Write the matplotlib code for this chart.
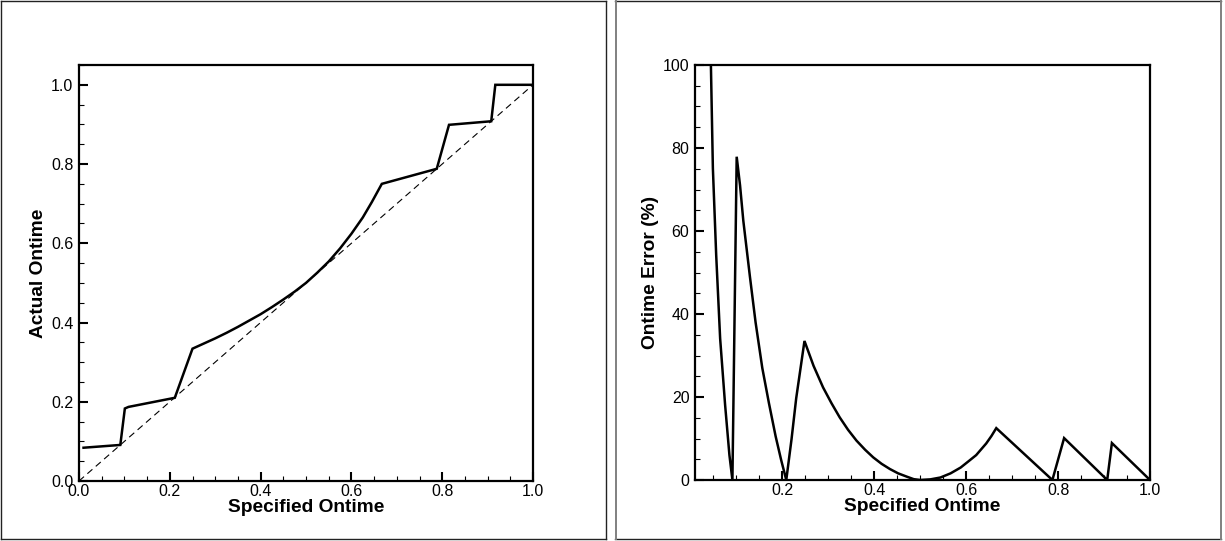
import matplotlib
matplotlib.use('Agg')
import matplotlib.pyplot as plt
from matplotlib.ticker import MultipleLocator, FormatStrFormatter
from matplotlib.lines import Line2D

plt.rcParams['font.family'] = ['Liberation Sans', 'DejaVu Sans']

# ---- data: left chart (Actual vs Specified ontime) ----
spec_left = [0.01, 0.091, 0.101, 0.109, 0.211, 0.25, 0.275, 0.30, 0.325, 0.35,
             0.375, 0.40, 0.425, 0.45, 0.475, 0.50, 0.525, 0.55, 0.575, 0.60,
             0.625, 0.645, 0.667, 0.788, 0.815, 0.908, 0.917, 1.0]
actual_left = [0.084, 0.091, 0.183, 0.187, 0.210, 0.334, 0.347, 0.360, 0.374, 0.389,
               0.405, 0.421, 0.439, 0.458, 0.478, 0.500, 0.526, 0.554, 0.587, 0.624,
               0.665, 0.704, 0.750, 0.788, 0.899, 0.908, 1.0, 1.0]
ideal_x = [0.0, 1.0]
ideal_y = [0.0, 1.0]

# ---- data: right chart (Ontime error %) ----
spec_right = [0.0446, 0.0489, 0.0561, 0.0647, 0.0755, 0.0849, 0.0914,
              0.1007, 0.108, 0.1151, 0.1295, 0.1418, 0.1564, 0.1709, 0.1855, 0.1975, 0.2086,
              0.22, 0.2302, 0.2482,
              0.268, 0.2887, 0.307, 0.3248, 0.343, 0.3613, 0.38, 0.3978, 0.416, 0.434,
              0.452, 0.471, 0.486, 0.50, 0.522, 0.544, 0.566, 0.588, 0.605, 0.6218,
              0.6436, 0.655, 0.6655,
              0.7876, 0.8131, 0.9069, 0.9171, 1.0]
error_right = [100, 75.1, 54.2, 34.1, 18.1, 6.0, 0,
               77.9, 71.0, 62.5, 49.0, 38.0, 27.0, 18.5, 10.5, 4.8, 0,
               9.8, 19.7, 33.5,
               27.5, 22.3, 18.5, 15.1, 12.1, 9.5, 7.3, 5.45, 3.9, 2.65,
               1.6, 0.8, 0.2, 0, 0.15, 0.6, 1.6, 3.0, 4.5, 6.0,
               8.8, 10.6, 12.5,
               0, 10.1, 0, 8.9, 0]

W, H = 1225, 541
fig = plt.figure(figsize=(W / 100, H / 100), dpi=100)
fig.patch.set_facecolor('white')


def fx(px):
    return px / W


def fy(py):
    return 1 - py / H


ax1 = fig.add_axes([fx(79), fy(481), (533 - 79) / W, (481 - 65) / H])
ax2 = fig.add_axes([fx(695), fy(480), (1150 - 695) / W, (480 - 65) / H])


def style(ax):
    for s in ax.spines.values():
        s.set_linewidth(1.6)
        s.set_color('black')
    ax.tick_params(which='both', direction='in', top=False, right=False,
                   labelsize=11.5, colors='black')
    ax.tick_params(which='major', length=6.5, width=1.5)
    ax.tick_params(which='minor', length=3.6, width=0.8)
    ax.tick_params(axis='x', which='both', pad=2.5)
    ax.tick_params(axis='y', which='both', pad=4)


# left chart
ax1.plot(ideal_x, ideal_y, color='black', lw=0.8, dashes=(6, 4))
ax1.plot(spec_left, actual_left, color='black', lw=1.8, solid_joinstyle='miter')
ax1.set_xlim(0, 1.0)
ax1.set_ylim(0, 1.05)
ax1.xaxis.set_major_locator(MultipleLocator(0.2))
ax1.xaxis.set_minor_locator(MultipleLocator(0.05))
ax1.yaxis.set_major_locator(MultipleLocator(0.2))
ax1.yaxis.set_minor_locator(MultipleLocator(0.05))
ax1.xaxis.set_major_formatter(FormatStrFormatter('%.1f'))
ax1.yaxis.set_major_formatter(FormatStrFormatter('%.1f'))
style(ax1)
ax1.set_xlabel('Specified Ontime', fontsize=13.8, fontweight='bold', labelpad=0)
ax1.set_ylabel('Actual Ontime', fontsize=13.8, fontweight='bold', labelpad=3)

# right chart
ax2.plot(spec_right, error_right, color='black', lw=1.8, solid_joinstyle='miter')
ax2.set_xlim(0.01, 1.0)
ax2.set_ylim(0, 100)
ax2.xaxis.set_major_locator(MultipleLocator(0.2))
ax2.xaxis.set_minor_locator(MultipleLocator(0.05))
ax2.yaxis.set_major_locator(MultipleLocator(20))
ax2.yaxis.set_minor_locator(MultipleLocator(5))
ax2.xaxis.set_major_formatter(FormatStrFormatter('%.1f'))
ax2.yaxis.set_major_formatter(FormatStrFormatter('%d'))
style(ax2)
ax2.set_xlabel('Specified Ontime', fontsize=13.8, fontweight='bold', labelpad=0)
ax2.set_ylabel('Ontime Error (%)', fontsize=13.8, fontweight='bold', labelpad=3)


# panel frames
def fline(x0, y0, x1, y1, color, lw):
    fig.add_artist(Line2D([fx(x0), fx(x1)], [fy(y0), fy(y1)], color=color, lw=lw,
                          transform=fig.transFigure))


# left panel
fline(1, 0.5, 606, 0.5, '#222222', 1.0)
fline(1, 539, 606, 539, '#222222', 1.0)
fline(1, 0.5, 1, 539, '#222222', 1.0)
fline(606, 0.5, 606, 539, '#222222', 1.0)
# right panel
fline(615, 0.5, 1221, 0.5, '#222222', 1.0)
fline(615, 539, 1221, 539, '#222222', 1.0)
fline(615.5, 0.5, 615.5, 539, '#808080', 1.4)
fline(1221, 0.5, 1221, 539, '#808080', 1.4)

fig.savefig('out.png', dpi=100, facecolor='white')
